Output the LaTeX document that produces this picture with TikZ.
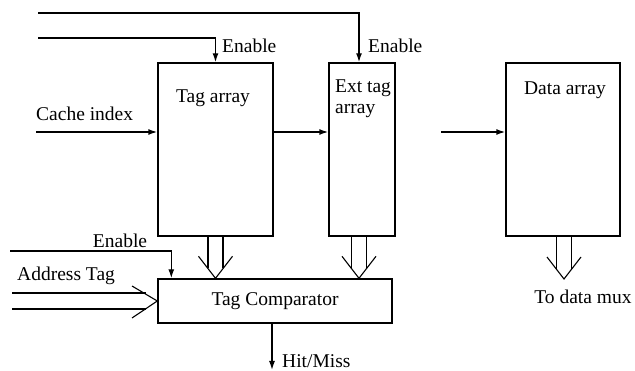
\documentclass[tikz,border=0pt]{standalone}
\usepackage{fontspec}
\setmainfont{Liberation Serif}
\usetikzlibrary{arrows.meta,calc}

\tikzset{
  block/.style={draw, line width=1.4pt, inner sep=0pt},
  wire/.style={line width=1.4pt, -{Latex[length=9pt,width=6pt]}},
  bus/.style={line width=1.1pt},
  lbl/.style={font=\fontsize{19.5}{21}\selectfont, inner sep=0pt},
}

% hollow bus arrow: #1 start, #2 tip (pointing down)
\newcommand{\busdown}[2]{%
  \draw[bus] ($(#1)+(-7.5,0)$) -- ($(#2)+(-7.5,-10)$)
             ($(#1)+(7.5,0)$) -- ($(#2)+(7.5,-10)$);
  \draw[bus] ($(#2)+(-17,-22)$) -- (#2) -- ($(#2)+(17,-22)$);
}

\begin{document}
\begin{tikzpicture}[x=1pt,y=-1pt]
  \useasboundingbox (0,0) rectangle (635,371);

  % Blocks
  \node[block, minimum width=115, minimum height=173] (tag) at (215.5,149.5) {};
  \node[block, minimum width=66, minimum height=173] (ext) at (362,149.5) {};
  \node[block, minimum width=114, minimum height=173] (data) at (563,149.5) {};
  \node[block, lbl, minimum width=234, minimum height=44] (comp) at (275,301) {Tag Comparator};

  % Texte in den Blocks
  \node[lbl] (tagtxt) at (213,98) {Tag array};
  \node[lbl, anchor=north west, align=left] (exttxt) at (335,80) {Ext tag\\array};
  \node[lbl] (datatxt) at (565,90) {Data array};

  % freie Leitungsenden
  \coordinate (en0) at (38,13);
  \coordinate (en1) at (38,38);
  \coordinate (en2) at (10,251);
  \coordinate (idx) at (36,132);
  \coordinate (didx) at (441,132);
  \coordinate (hit) at (272,370);
  \coordinate (mux) at (564,279);
  \coordinate (at1) at (12,293);
  \coordinate (at2) at (12,309);

  % Enable-Leitungen
  \draw[wire] (en0) -| ($(ext.north)+(-3,0)$);
  \draw[wire] (en1) -| (tag.north);
  \draw[wire] (en2) -| ($(comp.north west)+(14,0)$);
  \node[lbl, anchor=west] (entag) at (222,46) {Enable};
  \node[lbl, anchor=west] (enext) at (368,46) {Enable};
  \node[lbl] (encomp) at (120,241) {Enable};

  % Index
  \draw[wire] (idx) -- (idx -| tag.west);
  \node[lbl, anchor=west] (idxtxt) at (36,114) {Cache index};
  \draw[wire] (tag.east |- idx) -- (ext.west |- idx);
  \draw[wire] (didx) -- (didx -| data.west);

  % Busse
  \coordinate (t1) at (tag.south |- comp.north);
  \coordinate (t2) at ($(ext.south |- comp.north)+(-3,0)$);
  \busdown{tag.south}{t1}
  \busdown{$(ext.south)+(-3,0)$}{t2}
  \busdown{$(data.south)+(1,0)$}{mux}
  \node[lbl] (muxtxt) at (583,297) {To data mux};

  % Address Tag
  \draw[bus] (at1) -- (146,293) (at2) -- (146,309);
  \draw[bus] (132,286) -- (comp.west) -- (132,318);
  \node[lbl, anchor=west] (attxt) at (17,276) {Address Tag};

  % Ausgang
  \draw[wire] ($(comp.south)+(-3,0)$) -- (hit);
  \node[lbl, anchor=west] (hittxt) at (282,361) {Hit/Miss};
\end{tikzpicture}
\end{document}
